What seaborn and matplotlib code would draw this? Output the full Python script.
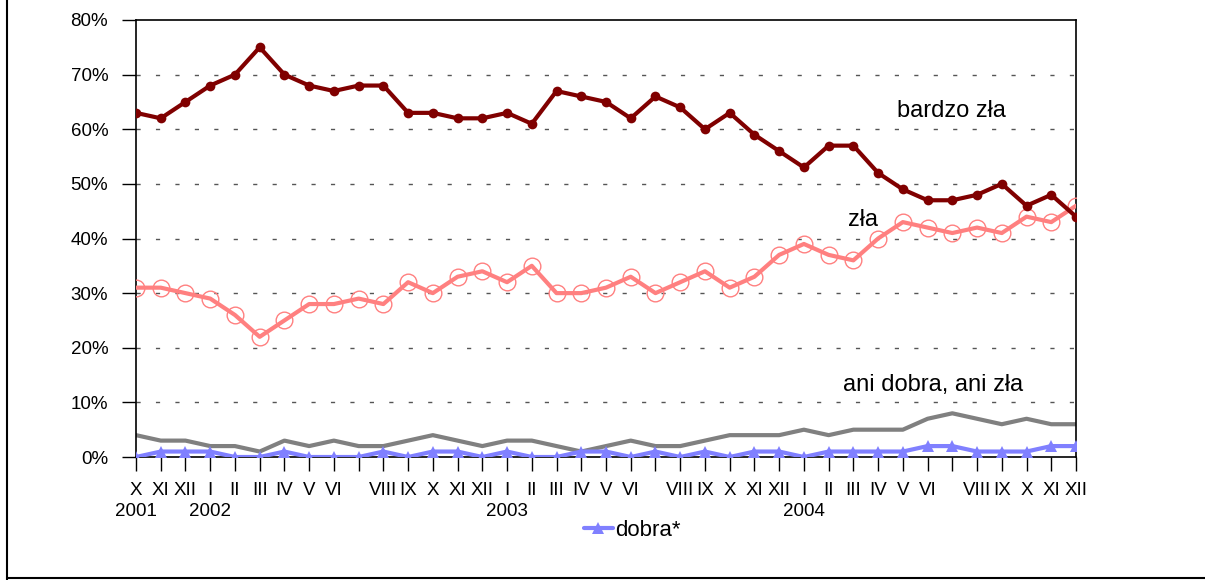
import numpy as np
import pandas as pd
import seaborn as sns
import matplotlib
matplotlib.use("Agg")
import matplotlib.pyplot as plt
from matplotlib.lines import Line2D
from matplotlib.ticker import FuncFormatter

#####                  data (percent)                 #####
months = ["X", "XI", "XII", "I", "II", "III", "IV", "V", "VI", "", "VIII", "IX",
          "X", "XI", "XII", "I", "II", "III", "IV", "V", "VI", "", "VIII", "IX",
          "X", "XI", "XII", "I", "II", "III", "IV", "V", "VI", "", "VIII", "IX",
          "X", "XI", "XII"]
year_pos = [0, 3, 15, 27]
year_lab = ["2001", "2002", "2003", "2004"]

bardzo_zla = [63, 62, 65, 68, 70, 75, 70, 68, 67, 68, 68, 63, 63, 62, 62, 63, 61, 67, 66, 65,
              62, 66, 64, 60, 63, 59, 56, 53, 57, 57, 52, 49, 47, 47, 48, 50, 46, 48, 44]
zla = [31, 31, 30, 29, 26, 22, 25, 28, 28, 29, 28, 32, 30, 33, 34, 32, 35, 30, 30, 31,
       33, 30, 32, 34, 31, 33, 37, 39, 37, 36, 40, 43, 42, 41, 42, 41, 44, 43, 46]
ani_ani = [4, 3, 3, 2, 2, 1, 3, 2, 3, 2, 2, 3, 4, 3, 2, 3, 3, 2, 1, 2,
           3, 2, 2, 3, 4, 4, 4, 5, 4, 5, 5, 5, 7, 8, 7, 6, 7, 6, 6]
dobra = [0, 1, 1, 1, 0, 0, 1, 0, 0, 0, 1, 0, 1, 1, 0, 1, 0, 0, 1, 1,
         0, 1, 0, 1, 0, 1, 1, 0, 1, 1, 1, 1, 2, 2, 1, 1, 1, 2, 2]

df = pd.DataFrame({"idx": np.arange(len(months)), "bardzo zła": bardzo_zla,
                   "zła": zla, "ani dobra, ani zła": ani_ani, "dobra*": dobra})

sns.set_style("white")
plt.rcParams["font.family"] = ["Liberation Sans", "DejaVu Sans"]
plt.rcParams["text.color"] = "black"

W, H = 1205, 580
fig = plt.figure(figsize=(W / 100, H / 100), dpi=100)
ax = fig.add_axes([136 / W, 1 - 457 / H, (1076 - 136) / W, (457 - 20) / H])

sns.lineplot(data=df, x="idx", y="ani dobra, ani zła", ax=ax, color="#808080", lw=3,
             zorder=2)
sns.lineplot(data=df, x="idx", y="dobra*", ax=ax, color="#8080FF", lw=3, marker="^",
             markersize=9, markeredgewidth=0, zorder=3, label="dobra*")
sns.lineplot(data=df, x="idx", y="zła", ax=ax, color="#FF8080", lw=3, marker="o",
             markersize=12, markerfacecolor="none", markeredgecolor="#FF8080",
             markeredgewidth=1, zorder=4)
sns.lineplot(data=df, x="idx", y="bardzo zła", ax=ax, color="#800000", lw=3, marker="o",
             markersize=7, markeredgewidth=0, zorder=5)

ax.set_xlim(0, len(months) - 1)
ax.set_ylim(0, 80)
ax.set_yticks(range(0, 81, 10))
ax.yaxis.set_major_formatter(FuncFormatter(lambda v, p: "%d%%" % v))
ax.set_xticks(df["idx"])
ax.set_xticklabels(months)
ax.set_xlabel("")
ax.set_ylabel("")

ax.tick_params(axis="both", direction="out", length=10, width=1, color="black",
               labelsize=13.5, labelcolor="black", left=True, bottom=True)
ax.tick_params(axis="x", pad=8)
ax.tick_params(axis="y", pad=10)
for s in ax.spines.values():
    s.set_color("black")
    s.set_linewidth(1.2)

# years on a second row under the month labels
for p, lab in zip(year_pos, year_lab):
    ax.text(p, -55 / 437, lab, transform=ax.get_xaxis_transform(), fontsize=13.5,
            ha="center", va="center", color="black")

for v in range(10, 80, 10):
    ax.axhline(v, color="#555555", lw=1, ls=(0, (3, 11)), zorder=1)

notes = [(897, 111, "bardzo zła"), (848, 220, "zła"), (843, 385, "ani dobra, ani zła")]
for x, y, s in notes:
    ax.text(x / W, 1 - y / H, s, transform=fig.transFigure, fontsize=17, va="center",
            color="black")

leg = ax.legend(loc="center", bbox_to_anchor=(632 / W, 1 - 530 / H),
                bbox_transform=fig.transFigure, frameon=False, fontsize=16,
                handlelength=1.3, handletextpad=0.1, labelcolor="black")

fig.add_artist(Line2D([7 / W, 7 / W], [0, 1], color="black", lw=1.5))
fig.add_artist(Line2D([7 / W, 1], [2 / H, 2 / H], color="black", lw=1.5))

fig.savefig("out.png", dpi=100)
